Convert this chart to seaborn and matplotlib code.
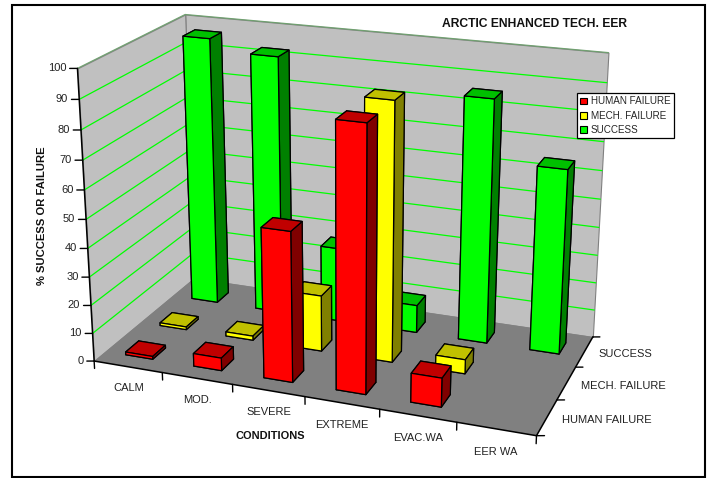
import numpy as np
import matplotlib
matplotlib.use("Agg")
import matplotlib.pyplot as plt
from matplotlib.patches import Patch, Rectangle
from mpl_toolkits.mplot3d import proj3d
from mpl_toolkits.mplot3d.art3d import Poly3DCollection
import seaborn as sns

conditions = ["CALM", "MOD.", "SEVERE", "EXTREME", "EVAC.WA", "EER WA"]
series_names = ["HUMAN FAILURE", "MECH. FAILURE", "SUCCESS"]
human_failure = [1, 4.5, 52, 90, 10, 0]
mech_failure = [1, 1.5, 20, 90, 5, 0]
success = [97, 93, 27, 10, 86, 65]
percent_ticks = list(range(0, 101, 10))

sns.set_theme(style="white")
plt.rcParams["font.family"] = ["Liberation Sans", "DejaVu Sans"]

W, H = 711, 478
fig = plt.figure(figsize=(W / 100, H / 100), dpi=100, facecolor="white")

# Outer chart frame
fig.add_artist(Rectangle((12 / W, 1 - 477 / H), 693 / W, 472 / H, transform=fig.transFigure,
                         fill=False, edgecolor="black", linewidth=1.5))

side = 584
ax = fig.add_axes([47.6 / W, -31 / H, side / W, side / H], projection="3d", computed_zorder=False)
ax.set_box_aspect((466, 238, 310))
ax.view_init(elev=20, azim=-69.5)
ax.set_proj_type("persp", focal_length=0.53)
ax.set_xlim(0, 6)
ax.set_ylim(0, 3)
ax.set_zlim(0, 100)
ax.set_axis_off()
ax.patch.set_alpha(0)

nx, ny, top = len(conditions), len(series_names), percent_ticks[-1]
projection = ax.get_proj()


def label(x, y, z, text, **kwargs):
    """Place flat text at the screen position of a point in data space."""
    px, py, _ = proj3d.proj_transform(x, y, z, projection)
    ax.text2D(px, py, text, transform=ax.transData, fontsize=8, color="#222222", zorder=50, **kwargs)


# Walls and floor
wall_color, floor_color = "#c0c0c0", "#808080"
ax.add_collection3d(Poly3DCollection([[(0, ny, 0), (nx, ny, 0), (nx, ny, top), (0, ny, top)]],
                                     facecolors=wall_color, edgecolors="#808080", linewidths=0.8, zorder=1))
ax.add_collection3d(Poly3DCollection([[(0, 0, 0), (0, ny, 0), (0, ny, top), (0, 0, top)]],
                                     facecolors=wall_color, edgecolors="#808080", linewidths=0.8, zorder=1))
ax.add_collection3d(Poly3DCollection([[(0, 0, 0), (nx, 0, 0), (nx, ny, 0), (0, ny, 0)]],
                                     facecolors=floor_color, edgecolors="none", zorder=2))

# Gridlines along both walls
for v in percent_ticks[1:]:
    color = "#00ff00" if v < top else "#70a070"
    ax.plot([0, 0, nx], [0, ny, ny], [v, v, v], color=color, lw=0.9, zorder=3)

# Axis lines and ticks
ax.plot([0, 0], [0, 0], [0, top], color="black", lw=1.1, zorder=4)
ax.plot([0, nx], [0, 0], [0, 0], color="black", lw=1.1, zorder=4)
ax.plot([nx, nx], [0, ny], [0, 0], color="black", lw=1.1, zorder=4)
lean = 0.38
for v in percent_ticks:
    ax.plot([-0.09, 0], [-0.09 * lean, 0], [v, v], color="black", lw=1, zorder=4)
    label(-0.13, -0.13 * lean, v, str(v), ha="right", va="center")
for i in range(nx + 1):
    ax.plot([i, i], [0, 0], [0, -2.7], color="black", lw=1, zorder=4)
for j in range(ny + 1):
    ax.plot([nx, nx + 0.09], [j, j + 0.09 * lean], [0, 0], color="black", lw=1, zorder=4)

for i, name in enumerate(conditions):
    label(i + 0.5, 0, -7.8, name, ha="center", va="center")
for j, name in enumerate(series_names):
    label(nx + 0.18, j + 0.5 + 0.18 * lean, -1, name, ha="left", va="center")

# Bars: back row first, then forward; each row left to right
palette = {"HUMAN FAILURE": ("#ff0000", "#c00000", "#800000"),
           "MECH. FAILURE": ("#ffff00", "#c0c000", "#808000"),
           "SUCCESS": ("#00ff00", "#00c000", "#008000")}
rows = dict(zip(series_names, [human_failure, mech_failure, success]))
bar_w, bar_d = 0.4, 0.37
order = 10
for j in reversed(range(ny)):
    name = series_names[j]
    front, lid, flank = palette[name]
    for i, value in enumerate(rows[name]):
        if value <= 0:
            continue
        # face order used by bar3d: bottom, top, -y, +y, -x, +x
        faces = [front, lid, front, flank, flank, flank]
        ax.bar3d(i + 0.5 - bar_w / 2, j + 0.5 - bar_d / 2, 0, bar_w, bar_d, value,
                 color=faces, shade=False, edgecolor="black", linewidth=0.9, zorder=order)
        order += 1

# Titles as figure text
fig.text(535 / W, 1 - 24 / H, "ARCTIC ENHANCED TECH. EER", ha="center", va="center",
         fontsize=8.7, fontweight="bold", color="#111111")
fig.text(270 / W, 1 - 436 / H, "CONDITIONS", ha="center", va="center",
         fontsize=7.9, fontweight="bold", color="#111111")
fig.text(42 / W, 1 - 216 / H, "% SUCCESS OR FAILURE", ha="center", va="center", rotation=90,
         fontsize=8.1, fontweight="bold", color="#111111")

handles = [Patch(facecolor=palette[n][0], edgecolor="black", linewidth=0.8) for n in series_names]
leg = fig.legend(handles, series_names, loc="upper left", bbox_to_anchor=(577 / W, 1 - 93 / H),
                 fontsize=7.1, frameon=True, fancybox=False, framealpha=1, edgecolor="black",
                 borderpad=0.35, labelspacing=0.42, handlelength=0.7, handleheight=0.7,
                 handletextpad=0.35, borderaxespad=0)
leg.get_frame().set_linewidth(0.9)
leg.set_zorder(100)

fig.savefig("out.png", dpi=100)
